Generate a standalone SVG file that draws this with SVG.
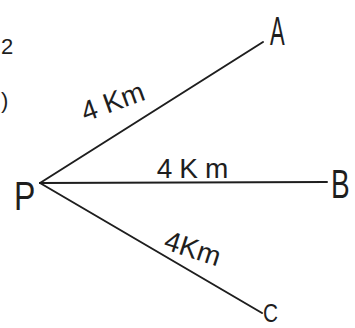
<svg xmlns="http://www.w3.org/2000/svg" width="355" height="328" viewBox="0 0 355 328">
<style>
.edge{stroke:#1e1e1e;stroke-width:2;stroke-linecap:round;fill:none}
.lbl{font-family:"Liberation Sans",Arial,sans-serif;fill:#1e1e1e}
.pt{font-size:40px}
.km{font-size:28px}
</style>
<rect width="355" height="328" fill="#ffffff"/>
<g id="margin-fragments" class="lbl" font-size="22">
<text x="1" y="54">2</text>
<text x="1" y="108">)</text>
</g>
<g id="connectors">
<line class="edge" x1="40" y1="183" x2="263" y2="42"/>
<line class="edge" x1="40" y1="183" x2="327" y2="182"/>
<line class="edge" x1="40" y1="183" x2="262" y2="313"/>
</g>
<g id="node-P"><text class="lbl pt" x="14" y="210" transform="translate(14 0) scale(0.8 1) translate(-14 0)">P</text></g>
<g id="node-A"><text class="lbl pt" x="270" y="45" transform="translate(270 0) scale(0.55 1) translate(-270 0)">A</text></g>
<g id="node-B"><text class="lbl pt" x="331" y="198" transform="translate(331 0) scale(0.7 1) translate(-331 0)">B</text></g>
<g id="node-C"><text class="lbl" font-size="26" x="263" y="322" transform="translate(263 0) scale(0.8 1) translate(-263 0)">C</text></g>
<g id="labels">
<text class="lbl km" x="113" y="111" text-anchor="middle" transform="rotate(-20 113 102)">4 Km</text>
<text class="lbl km" x="196" y="178" text-anchor="middle" letter-spacing="7">4Km</text>
<text class="lbl km" x="193" y="258" text-anchor="middle" transform="rotate(18 193 248)">4Km</text>
</g>
</svg>
